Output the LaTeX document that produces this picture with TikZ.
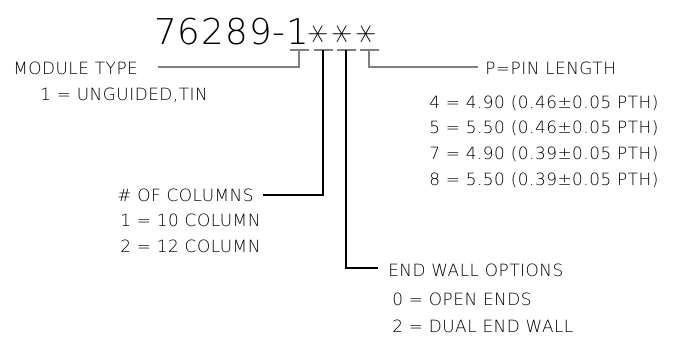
\documentclass[tikz,border=0pt]{standalone}
\usepackage{fontspec}
\setmainfont{DejaVuSans-ExtraLight.ttf}[LetterSpace=3]
\usetikzlibrary{positioning}
\definecolor{ink}{HTML}{000000}
\definecolor{leadgray}{HTML}{7F7F7F}
\tikzset{lbl/.style={inner sep=0pt,anchor=base west,text=ink,font=\fontsize{12}{14}\selectfont},
 gline/.style={leadgray,line width=1pt},
 bline/.style={black,line width=1pt},
 bar/.style={leadgray,line width=1.4pt}}

\begin{document}
\begin{tikzpicture}[x=0.025cm,y=-0.025cm]
\useasboundingbox (0,0) rectangle (677,344);
% part number
\node[lbl,font=\fontsize{25.3}{30}\selectfont] (pn) at (154,44) {76289-1};
\foreach \k/\x in {1/320,2/344,3/368}{\node[inner sep=0pt,text=ink,rotate=90,font=\fontsize{28}{32}\selectfont] (s\k) at (\x,34) {∗};}
\foreach \k/\x in {0/299,1/323,2/346,3/369}{\coordinate (b\k) at (\x,50); \draw[bar] (\x-9.5,50) -- (\x+9.5,50);}
% labels
\node[lbl] (mt) at (13,74) {MODULE TYPE};
\node[lbl] (mt1) at (40,100) {1 = UNGUIDED,TIN};
\node[lbl] (pl) at (485,74) {P=PIN LENGTH};
\foreach \r/\y/\t in {1/108/{4 = 4.90 (0.46±0.05 PTH)},2/133/{5 = 5.50 (0.46±0.05 PTH)},3/159/{7 = 4.90 (0.39±0.05 PTH)},4/185/{8 = 5.50 (0.39±0.05 PTH)}}{\node[lbl] (pl\r) at (429,\y) {\t};}
\node[lbl] (nc) at (117,201) {\# OF COLUMNS};
\node[lbl] (nc1) at (120,226) {1 = 10 COLUMN};
\node[lbl] (nc2) at (120,252) {2 = 12 COLUMN};
\node[lbl] (ew) at (388,276) {END WALL OPTIONS};
\node[lbl] (ew1) at (392,305) {0 = OPEN ENDS};
\node[lbl] (ew2) at (392,332) {2 = DUAL END WALL};
% leaders
\coordinate (m0) at (158,67);
\coordinate (m1) at (263,195);
\coordinate (m2) at (378,268);
\coordinate (m3) at (478,67);
\draw[gline] (b0) |- (m0);
\draw[bline] (b1) |- (m1);
\draw[bline] (b2) |- (m2);
\draw[gline] (b3) |- (m3);
\end{tikzpicture}
\end{document}
